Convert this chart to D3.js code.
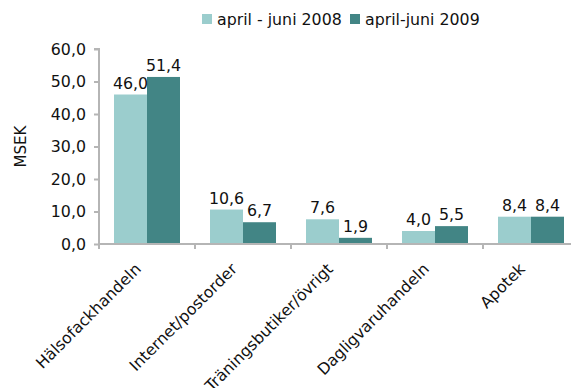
<!DOCTYPE html>
<html>
<head>
<meta charset="utf-8">
<script src="https://cdn.jsdelivr.net/npm/d3@7"></script>
<style>
  html, body { margin: 0; padding: 0; background: #fff; }
  svg { display: block; font-family: "DejaVu Sans", Verdana, sans-serif; }
</style>
</head>
<body>
<svg id="chart" width="571" height="388"></svg>
<script>
// Försäljning per kanal, MSEK
const categories = ["Hälsofackhandeln", "Internet/postorder", "Träningsbutiker/övrigt", "Dagligvaruhandeln", "Apotek"];
const seriesNames = ["april - juni 2008", "april-juni 2009"];
const values2008 = [46.0, 10.6, 7.6, 4.0, 8.4];
const values2009 = [51.4, 6.7, 1.9, 5.5, 8.4];
const yTicks = [0, 10, 20, 30, 40, 50, 60];
const colors = ["#9bcdcd", "#428585"];

const fmt = v => d3.format(".1f")(v).replace(".", ",");
const fontSize = 15.8;

const svg = d3.select("#chart");
const x0 = 99, x1 = 579, yTop = 49, yBottom = 244;

const x = d3.scaleBand().domain(categories).range([x0, x1]).paddingInner(0).paddingOuter(0);
const xs = d3.scaleBand().domain(seriesNames).range([15, 81]).padding(0);
const y = d3.scaleLinear().domain([0, 60]).range([yBottom, yTop]);

const axisColor = "#b5b5b5";

// y axis
const yAxis = svg.append("g").attr("transform", `translate(${x0},0)`)
  .call(d3.axisLeft(y).tickValues(yTicks).tickFormat(fmt).tickSize(5).tickPadding(8));
yAxis.select(".domain").attr("stroke", axisColor).attr("stroke-width", 2).attr("d", `M-5,${yTop}H0V${yBottom}`);
yAxis.selectAll(".tick line").attr("stroke", axisColor).attr("stroke-width", 2);
yAxis.selectAll(".tick text").attr("fill", "#111").attr("font-size", fontSize)
  .attr("font-family", "DejaVu Sans, Verdana, sans-serif");

// bars
const data = categories.map((c, i) => ({ cat: c, vals: [values2008[i], values2009[i]] }));
const groups = svg.append("g").selectAll("g").data(data).join("g")
  .attr("transform", d => `translate(${x(d.cat)},0)`);
groups.selectAll("rect").data(d => d.vals.map((v, j) => ({ v, s: seriesNames[j], j })))
  .join("rect")
  .attr("x", d => xs(d.s))
  .attr("width", xs.bandwidth())
  .attr("y", d => y(d.v))
  .attr("height", d => y(0) - y(d.v))
  .attr("fill", d => colors[d.j]);
groups.selectAll("text").data(d => d.vals.map((v, j) => ({ v, s: seriesNames[j] })))
  .join("text")
  .attr("x", d => xs(d.s) + xs.bandwidth() / 2)
  .attr("y", d => y(d.v) - 6)
  .attr("text-anchor", "middle")
  .attr("font-size", fontSize)
  .attr("fill", "#111")
  .text(d => fmt(d.v));

// x axis
const xAxisG = svg.append("g").attr("transform", `translate(0,${yBottom})`);
xAxisG.append("line").attr("x1", x0).attr("x2", x1).attr("y1", 0).attr("y2", 0)
  .attr("stroke", axisColor).attr("stroke-width", 2);
xAxisG.selectAll("line.tk").data(categories).join("line").attr("class", "tk")
  .attr("x1", d => x(d)).attr("x2", d => x(d)).attr("y1", 0).attr("y2", 5)
  .attr("stroke", axisColor).attr("stroke-width", 2);
xAxisG.selectAll("text").data(categories).join("text")
  .attr("transform", d => `translate(${x(d) + x.bandwidth() / 2 - 5},${26}) rotate(-45)`)
  .attr("text-anchor", "end")
  .attr("font-size", fontSize)
  .attr("fill", "#111")
  .text(d => d);

// y axis title
svg.append("text")
  .attr("transform", `translate(26,${(yTop + yBottom) / 2}) rotate(-90)`)
  .attr("text-anchor", "middle")
  .attr("font-size", 15)
  .attr("fill", "#111")
  .text("MSEK");

// legend
const legend = svg.append("g");
const legendX = [202, 350];
seriesNames.forEach((s, i) => {
  legend.append("rect").attr("x", legendX[i]).attr("y", 14).attr("width", 10).attr("height", 10).attr("fill", colors[i]);
  legend.append("text").attr("x", legendX[i] + 15).attr("y", 25).attr("font-size", fontSize).attr("fill", "#111").text(s);
});
</script>
</body>
</html>
